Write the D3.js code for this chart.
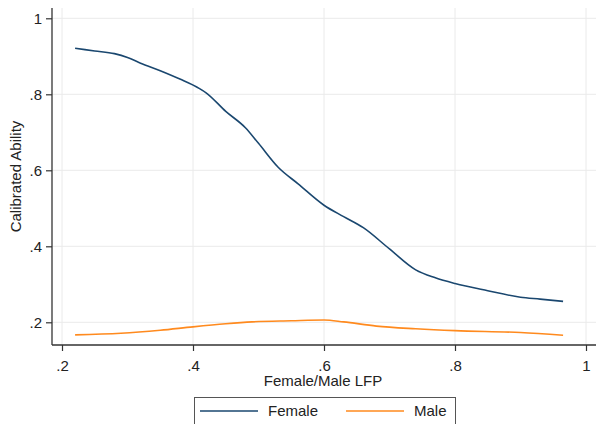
<!DOCTYPE html>
<html>
<head>
<meta charset="utf-8">
<script src="https://cdn.jsdelivr.net/npm/d3@7"></script>
<style>
  body { margin: 0; background: #fff; }
  text { font-family: "Liberation Sans", Arial, sans-serif; fill: #222; }
</style>
</head>
<body>
<div id="chart"></div>
<script>
// data
var femaleX = [0.22, 0.25, 0.28, 0.30, 0.32, 0.35, 0.38, 0.41, 0.42, 0.45, 0.48, 0.50, 0.53, 0.56, 0.60, 0.63, 0.66, 0.70, 0.74, 0.77, 0.80, 0.85, 0.90, 0.93, 0.965];
var femaleY = [0.921, 0.914, 0.907, 0.897, 0.882, 0.862, 0.840, 0.815, 0.804, 0.755, 0.712, 0.671, 0.608, 0.565, 0.508, 0.478, 0.449, 0.393, 0.338, 0.317, 0.302, 0.283, 0.266, 0.261, 0.255];
var maleX = [0.22, 0.29, 0.35, 0.40, 0.45, 0.49, 0.55, 0.60, 0.63, 0.68, 0.74, 0.80, 0.90, 0.965];
var maleY = [0.167, 0.171, 0.179, 0.188, 0.196, 0.201, 0.204, 0.206, 0.201, 0.190, 0.183, 0.178, 0.173, 0.166];
var xTicks = [0.2, 0.4, 0.6, 0.8, 1];
var yTicks = [0.2, 0.4, 0.6, 0.8, 1];
var seriesNames = ['Female', 'Male'];
var seriesColors = ['#1a476f', '#ff8a1e'];

var svgWidth = 596;
var svgHeight = 424;

// plot region
var plotLeft = 52, plotRight = 596, plotTop = 8, plotBottom = 345;

var svg = d3.select('#chart').append('svg')
    .attr('width', svgWidth)
    .attr('height', svgHeight);

var x = d3.scaleLinear().domain([0.2, 1]).range([62, 586]);
var y = d3.scaleLinear().domain([0.2, 1]).range([322.3, 18.3]);

function fmt(v) {
    return v === 1 ? '1' : String(v).replace(/^0/, '');
}

// grid
svg.append('g').selectAll('line')
    .data(xTicks)
    .enter().append('line')
    .attr('x1', d => x(d)).attr('x2', d => x(d))
    .attr('y1', plotTop).attr('y2', plotBottom)
    .attr('stroke', '#eaeaea').attr('stroke-width', 1);

svg.append('g').selectAll('line')
    .data(yTicks)
    .enter().append('line')
    .attr('x1', plotLeft).attr('x2', plotRight)
    .attr('y1', d => y(d)).attr('y2', d => y(d))
    .attr('stroke', '#eaeaea').attr('stroke-width', 1);

// axes
var xAxis = svg.append('g')
    .attr('transform', `translate(0, ${plotBottom})`)
    .call(d3.axisBottom(x).tickValues(xTicks).tickFormat(fmt).tickSize(6).tickPadding(9));
xAxis.select('.domain').attr('d', `M${plotLeft},0H${plotRight}`);

var yAxis = svg.append('g')
    .attr('transform', `translate(${plotLeft}, 0)`)
    .call(d3.axisLeft(y).tickValues(yTicks).tickFormat(fmt).tickSize(6).tickPadding(4));
yAxis.select('.domain').attr('d', `M0,${plotTop}V${plotBottom}`);

svg.selectAll('.domain').attr('stroke', '#333').attr('stroke-width', 1.3);
svg.selectAll('.tick line').attr('stroke', '#333').attr('stroke-width', 1.2);
svg.selectAll('.tick text')
    .attr('font-family', '"Liberation Sans", Arial, sans-serif')
    .attr('font-size', 15)
    .attr('fill', '#222');

// lines
var line = d3.line()
    .x(d => x(d[0]))
    .y(d => y(d[1]))
    .curve(d3.curveMonotoneX);

var series = [
    d3.zip(femaleX, femaleY),
    d3.zip(maleX, maleY)
];

svg.append('g').selectAll('path')
    .data(series)
    .enter().append('path')
    .attr('d', line)
    .attr('fill', 'none')
    .attr('stroke', (d, i) => seriesColors[i])
    .attr('stroke-width', 1.6);

// axis titles
svg.append('text')
    .attr('x', 323)
    .attr('y', 386)
    .attr('text-anchor', 'middle')
    .attr('font-size', 15)
    .text('Female/Male LFP');

svg.append('text')
    .attr('transform', `translate(21, ${(plotTop + plotBottom) / 2}) rotate(-90)`)
    .attr('text-anchor', 'middle')
    .attr('font-size', 15)
    .text('Calibrated Ability');

// legend
var legend = svg.append('g');
legend.append('rect')
    .attr('x', 194.5).attr('y', 397.5)
    .attr('width', 261).attr('height', 40)
    .attr('fill', '#fff')
    .attr('stroke', '#555').attr('stroke-width', 1);

var legendX = [200, 346];
seriesNames.forEach(function(name, i) {
    legend.append('line')
        .attr('x1', legendX[i]).attr('x2', legendX[i] + 58)
        .attr('y1', 411).attr('y2', 411)
        .attr('stroke', seriesColors[i]).attr('stroke-width', 1.6);
    legend.append('text')
        .attr('x', legendX[i] + 68)
        .attr('y', 416)
        .attr('font-size', 15)
        .text(name);
});
</script>
</body>
</html>
